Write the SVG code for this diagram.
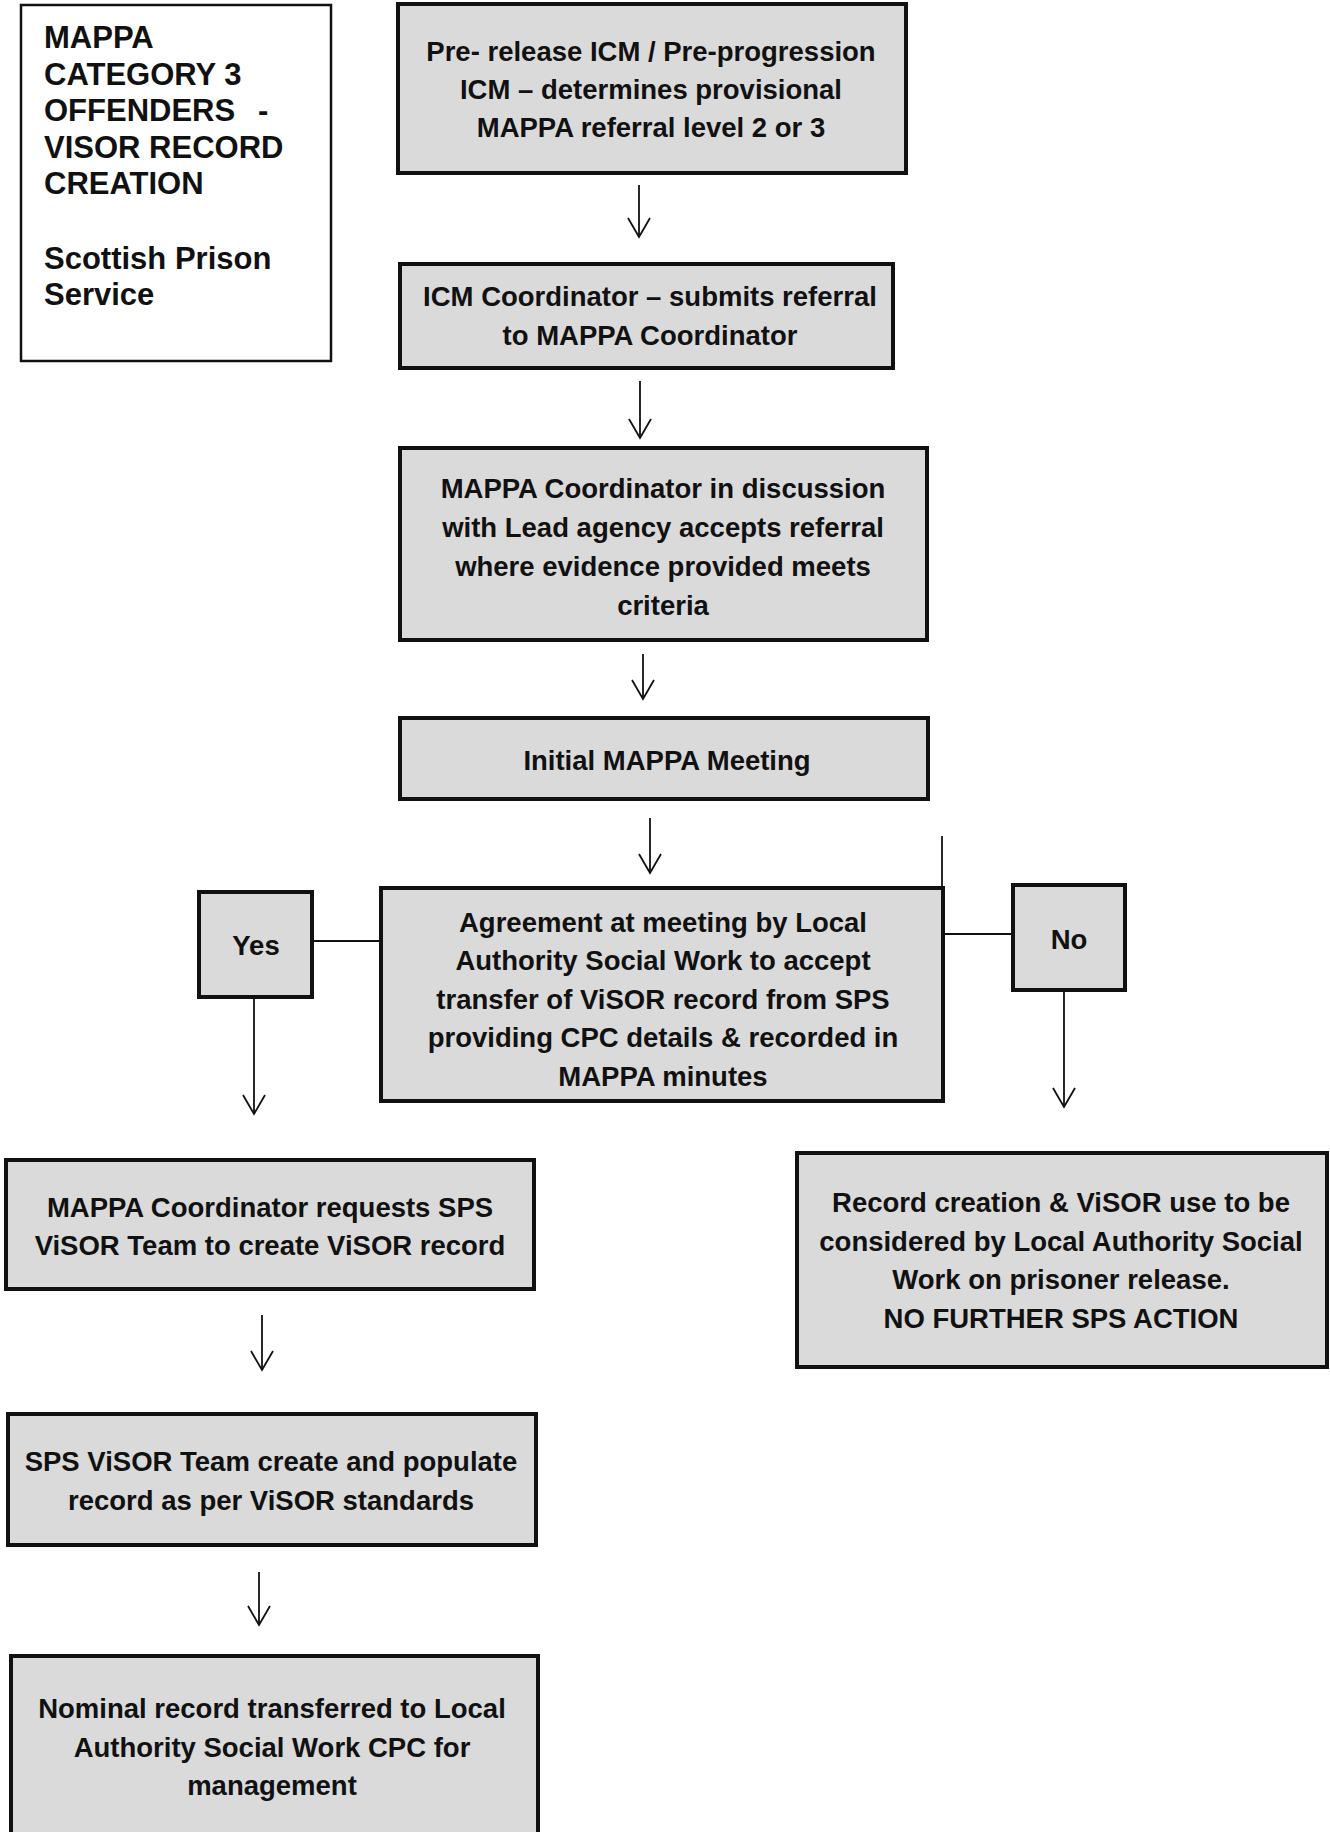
<svg xmlns="http://www.w3.org/2000/svg" width="1330" height="1832" viewBox="0 0 1330 1832">
<style>
.box{fill:#dadada;stroke:#111;stroke-width:4}
.title{fill:#fff;stroke:#111;stroke-width:2.5}
.t{font-family:"Liberation Sans",Arial,sans-serif;font-weight:bold;font-size:27.5px;fill:#111;text-anchor:middle}
.tt{font-family:"Liberation Sans",Arial,sans-serif;font-weight:bold;font-size:31px;fill:#111}
.ln{stroke:#111;stroke-width:1.8;fill:none}
</style>
<defs>
<marker id="ah" viewBox="0 0 22 26" refX="20" refY="13" markerWidth="22" markerHeight="26" markerUnits="userSpaceOnUse" orient="auto">
<path d="M1 2 L20 13 L1 24" fill="none" stroke="#111" stroke-width="1.8"/>
</marker>
</defs>
<rect width="1330" height="1832" fill="#fff"/>
<g id="title">
<rect class="title" x="21" y="5" width="310" height="356"/>
<text class="tt" x="44" y="48">MAPPA</text>
<text class="tt" x="44" y="85">CATEGORY 3</text>
<text class="tt" x="44" y="121">OFFENDERS</text>
<text class="tt" x="258" y="121">-</text>
<text class="tt" x="44" y="158">VISOR RECORD</text>
<text class="tt" x="44" y="194">CREATION</text>
<text class="tt" x="44" y="269">Scottish Prison</text>
<text class="tt" x="44" y="305">Service</text>
</g>
<g id="connectors">
<line class="ln" x1="639" y1="185" x2="639" y2="237" marker-end="url(#ah)"/>
<line class="ln" x1="640" y1="381" x2="640" y2="438" marker-end="url(#ah)"/>
<line class="ln" x1="643" y1="654" x2="643" y2="699" marker-end="url(#ah)"/>
<line class="ln" x1="650" y1="818" x2="650" y2="873" marker-end="url(#ah)"/>
<line class="ln" x1="942" y1="836" x2="942" y2="888"/>
<line class="ln" x1="312" y1="941" x2="381" y2="941"/>
<line class="ln" x1="943" y1="934" x2="1013" y2="934"/>
<line class="ln" x1="254" y1="997" x2="254" y2="1114" marker-end="url(#ah)"/>
<line class="ln" x1="1064" y1="990" x2="1064" y2="1107" marker-end="url(#ah)"/>
<line class="ln" x1="262" y1="1315" x2="262" y2="1370" marker-end="url(#ah)"/>
<line class="ln" x1="259" y1="1572" x2="259" y2="1625" marker-end="url(#ah)"/>
</g>
<g id="n1">
<rect class="box" x="398" y="4" width="508" height="169"/>
<text class="t" x="651" y="61">Pre- release ICM / Pre-progression</text>
<text class="t" x="651" y="99">ICM – determines provisional</text>
<text class="t" x="651" y="137">MAPPA referral level 2 or 3</text>
</g>
<g id="n2">
<rect class="box" x="400" y="264" width="493" height="104"/>
<text class="t" x="650" y="306">ICM Coordinator – submits referral</text>
<text class="t" x="650" y="345">to MAPPA Coordinator</text>
</g>
<g id="n3">
<rect class="box" x="400" y="448" width="527" height="192"/>
<text class="t" x="663" y="498">MAPPA Coordinator in discussion</text>
<text class="t" x="663" y="537">with Lead agency accepts referral</text>
<text class="t" x="663" y="576">where evidence provided meets</text>
<text class="t" x="663" y="615">criteria</text>
</g>
<g id="n4">
<rect class="box" x="400" y="718" width="528" height="81"/>
<text class="t" x="667" y="770">Initial MAPPA Meeting</text>
</g>
<g id="n5">
<rect class="box" x="381" y="888" width="562" height="213"/>
<text class="t" x="663" y="932">Agreement at meeting by Local</text>
<text class="t" x="663" y="970">Authority Social Work to accept</text>
<text class="t" x="663" y="1009">transfer of ViSOR record from SPS</text>
<text class="t" x="663" y="1047">providing CPC details &amp; recorded in</text>
<text class="t" x="663" y="1086">MAPPA minutes</text>
</g>
<g id="yes">
<rect class="box" x="199" y="892" width="113" height="105"/>
<text class="t" x="256" y="955">Yes</text>
</g>
<g id="no">
<rect class="box" x="1013" y="885" width="112" height="105"/>
<text class="t" x="1069" y="949">No</text>
</g>
<g id="n6">
<rect class="box" x="6" y="1160" width="528" height="129"/>
<text class="t" x="270" y="1217">MAPPA Coordinator requests SPS</text>
<text class="t" x="270" y="1255">ViSOR Team to create ViSOR record</text>
</g>
<g id="n7">
<rect class="box" x="797" y="1153" width="530" height="214"/>
<text class="t" x="1061" y="1212">Record creation &amp; ViSOR use to be</text>
<text class="t" x="1061" y="1251">considered by Local Authority Social</text>
<text class="t" x="1061" y="1289">Work on prisoner release.</text>
<text class="t" x="1061" y="1328">NO FURTHER SPS ACTION</text>
</g>
<g id="n8">
<rect class="box" x="8" y="1414" width="528" height="131"/>
<text class="t" x="271" y="1471">SPS ViSOR Team create and populate</text>
<text class="t" x="271" y="1510">record as per ViSOR standards</text>
</g>
<g id="n9">
<rect class="box" x="11" y="1656" width="527" height="180"/>
<text class="t" x="272" y="1718">Nominal record transferred to Local</text>
<text class="t" x="272" y="1757">Authority Social Work CPC for</text>
<text class="t" x="272" y="1795">management</text>
</g>
</svg>
